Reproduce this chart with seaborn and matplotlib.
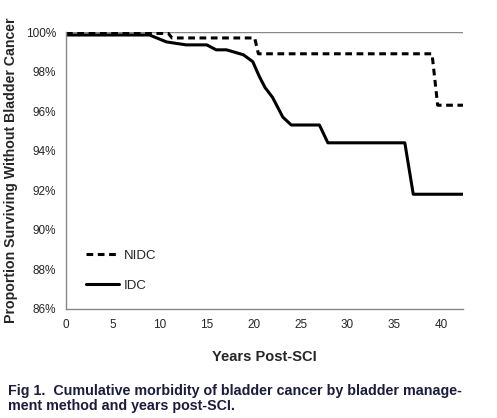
import matplotlib
matplotlib.use('Agg')
import matplotlib.pyplot as plt
import seaborn as sns
import pandas as pd
from matplotlib.ticker import PercentFormatter

# --- Data ---
nidc_years = [0, 10.9, 11.3, 20.1, 20.5, 39.0, 39.6, 42.3]
nidc_surv = [0.9993, 0.9993, 0.9970, 0.9970, 0.9890, 0.9890, 0.9630, 0.9630]

idc_years = [0, 8.9, 10.7, 12.8, 15.0, 16.0, 17.1, 18.9, 19.9, 20.6, 21.2, 22.0,
             23.1, 24.0, 27.0, 27.9, 36.1, 37.0, 42.3]
idc_surv = [0.9985, 0.9985, 0.9950, 0.9935, 0.9935, 0.9910, 0.9910, 0.9885, 0.9850,
            0.9775, 0.9720, 0.9670, 0.9570, 0.9530, 0.9530, 0.9440, 0.9440, 0.9180, 0.9180]

x_ticks = [0, 5, 10, 15, 20, 25, 30, 35, 40]
y_ticks = [0.86, 0.88, 0.90, 0.92, 0.94, 0.96, 0.98, 1.00]

df = pd.concat([
    pd.DataFrame({'years': nidc_years, 'surv': nidc_surv, 'group': 'NIDC'}),
    pd.DataFrame({'years': idc_years, 'surv': idc_surv, 'group': 'IDC'}),
])

sns.set_style('white')
plt.rcParams['font.family'] = ['Liberation Sans Narrow', 'Liberation Sans', 'DejaVu Sans']

fig = plt.figure(figsize=(4.97, 4.18), dpi=100)
ax = fig.add_axes([0.1328, 0.2608, 0.7988, 0.6626])

sns.lineplot(data=df, x='years', y='surv', hue='group', style='group',
             palette={'NIDC': 'black', 'IDC': 'black'},
             dashes={'NIDC': (2.2, 1.5), 'IDC': ''},
             linewidth=2.2, ax=ax, sort=False, estimator=None)

ax.set_xlim(0, 42.3)
ax.set_ylim(0.86, 1.0)
ax.set_xticks(x_ticks)
ax.set_yticks(y_ticks)
ax.yaxis.set_major_formatter(PercentFormatter(1.0, decimals=0))
ax.axhline(1.0, color='#888888', linewidth=1, zorder=0)

for s in ['top', 'right']:
    ax.spines[s].set_visible(False)
for s in ['left', 'bottom']:
    ax.spines[s].set_color('#888888')
    ax.spines[s].set_linewidth(1)
ax.tick_params(axis='both', direction='out', length=4, width=1, color='#888888',
               labelsize=8.5, pad=3)

ax.set_xlabel('Years Post-SCI', fontsize=10.5, fontweight='bold',
              family=['Liberation Sans', 'DejaVu Sans'], labelpad=14)
ax.set_ylabel('Proportion Surviving Without Bladder Cancer', fontsize=10.2, fontweight='bold',
              family=['Liberation Sans', 'DejaVu Sans'], labelpad=6)

leg = ax.legend(loc='lower left', bbox_to_anchor=(0.02, 0.02), frameon=False,
                fontsize=9.5, handlelength=2.5, labelspacing=1.35, handletextpad=0.4)
leg.set_title(None)

fig.text(0.016, 0.012, 'Fig 1.  Cumulative morbidity of bladder cancer by bladder manage-\nment method and years post-SCI.',
         fontsize=10.3, fontweight='bold', color='#1c1c3c', linespacing=1.05,
         family=['Liberation Sans', 'DejaVu Sans'], va='bottom')

fig.savefig('out.png', dpi=100)
